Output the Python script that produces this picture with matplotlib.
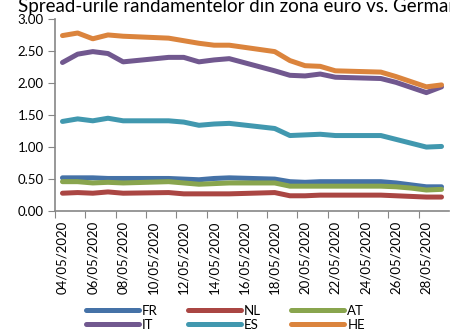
import matplotlib

matplotlib.use("Agg")
import matplotlib.pyplot as plt
from matplotlib.ticker import FixedLocator, FormatStrFormatter

# business days 04/05/2020 .. 29/05/2020, as day offsets from 04/05
days = [0, 1, 2, 3, 4, 7, 8, 9, 10, 11, 14, 15, 16, 17, 18, 21, 22, 23, 24, 25]
tick_labels = ["04/05/2020", "06/05/2020", "08/05/2020", "10/05/2020", "12/05/2020",
               "14/05/2020", "16/05/2020", "18/05/2020", "20/05/2020", "22/05/2020",
               "24/05/2020", "26/05/2020", "28/05/2020"]

fr = [0.52, 0.52, 0.52, 0.51, 0.51, 0.51, 0.50, 0.49, 0.51, 0.52,
      0.50, 0.46, 0.45, 0.46, 0.46, 0.46, 0.44, 0.41, 0.38, 0.38]
nl = [0.28, 0.29, 0.28, 0.30, 0.28, 0.29, 0.27, 0.27, 0.27, 0.27,
      0.29, 0.24, 0.24, 0.25, 0.25, 0.25, 0.24, 0.23, 0.22, 0.22]
at = [0.46, 0.46, 0.44, 0.45, 0.44, 0.46, 0.44, 0.42, 0.43, 0.44,
      0.44, 0.39, 0.39, 0.39, 0.39, 0.39, 0.38, 0.36, 0.33, 0.34]
it = [2.32, 2.45, 2.49, 2.46, 2.33, 2.40, 2.40, 2.33, 2.36, 2.38,
      2.19, 2.12, 2.11, 2.14, 2.09, 2.07, 2.01, 1.93, 1.85, 1.94]
es = [1.40, 1.44, 1.41, 1.45, 1.41, 1.41, 1.39, 1.34, 1.36, 1.37,
      1.29, 1.18, 1.19, 1.20, 1.18, 1.18, 1.12, 1.06, 1.00, 1.01]
he = [2.74, 2.78, 2.69, 2.75, 2.73, 2.70, 2.66, 2.62, 2.59, 2.59,
      2.49, 2.35, 2.27, 2.26, 2.19, 2.17, 2.10, 2.02, 1.94, 1.97]

series = [("FR", fr, "#4572A7"), ("NL", nl, "#AA4643"), ("AT", at, "#89A54E"),
          ("IT", it, "#71588F"), ("ES", es, "#4198AF"), ("HE", he, "#DB843D")]

plt.rcParams["font.family"] = ["Lato", "DejaVu Sans"]

fig = plt.figure(figsize=(4.5, 3.32), dpi=100)
ax = fig.add_axes([0.122, 0.364, 0.876, 0.579])

x = [d + 0.5 for d in days]  # points sit mid-day on the date axis
lines = {}
for name, vals, col in series:
    (lines[name],) = ax.plot(x, vals, color=col, lw=3.6, solid_capstyle="round",
                             solid_joinstyle="round", label=name)

ax.set_xlim(0, 26)
ax.set_ylim(0, 3)
ax.yaxis.set_major_locator(FixedLocator([0, 0.5, 1, 1.5, 2, 2.5, 3]))
ax.yaxis.set_major_formatter(FormatStrFormatter("%.2f"))

# tick marks on day boundaries, labels centred on the day
ax.set_xticks(range(0, 26, 2))
ax.set_xticklabels([])
ax.set_xticks([d + 0.5 for d in range(0, 26, 2)], minor=True)
ax.set_xticklabels(tick_labels, minor=True, rotation=90, fontsize=9.5)
ax.tick_params(axis="x", which="minor", length=0, pad=7)
ax.tick_params(axis="x", which="major", length=5, color="#868686", direction="out")
ax.tick_params(axis="y", length=5, color="#868686", labelsize=9.5, pad=3)

for s in ("top", "right"):
    ax.spines[s].set_visible(False)
for s in ("left", "bottom"):
    ax.spines[s].set_color("#868686")
    ax.spines[s].set_linewidth(1.2)

# title sits partly above the canvas, as in the source image
fig.text(0.04, 1 - 12 / 332, "Spread-urile randamentelor din zona euro vs. Germania",
         fontsize=13.5, va="baseline", ha="left")

order = ["FR", "IT", "NL", "ES", "AT", "HE"]
fig.legend([lines[k] for k in order], order, ncol=3, loc="lower left",
           bbox_to_anchor=(0.17, -0.025), frameon=False, fontsize=9.5,
           handlelength=4.0, handletextpad=0.25, columnspacing=2.3,
           labelspacing=0.15, borderpad=0.2)

fig.savefig("out.png", dpi=100)
